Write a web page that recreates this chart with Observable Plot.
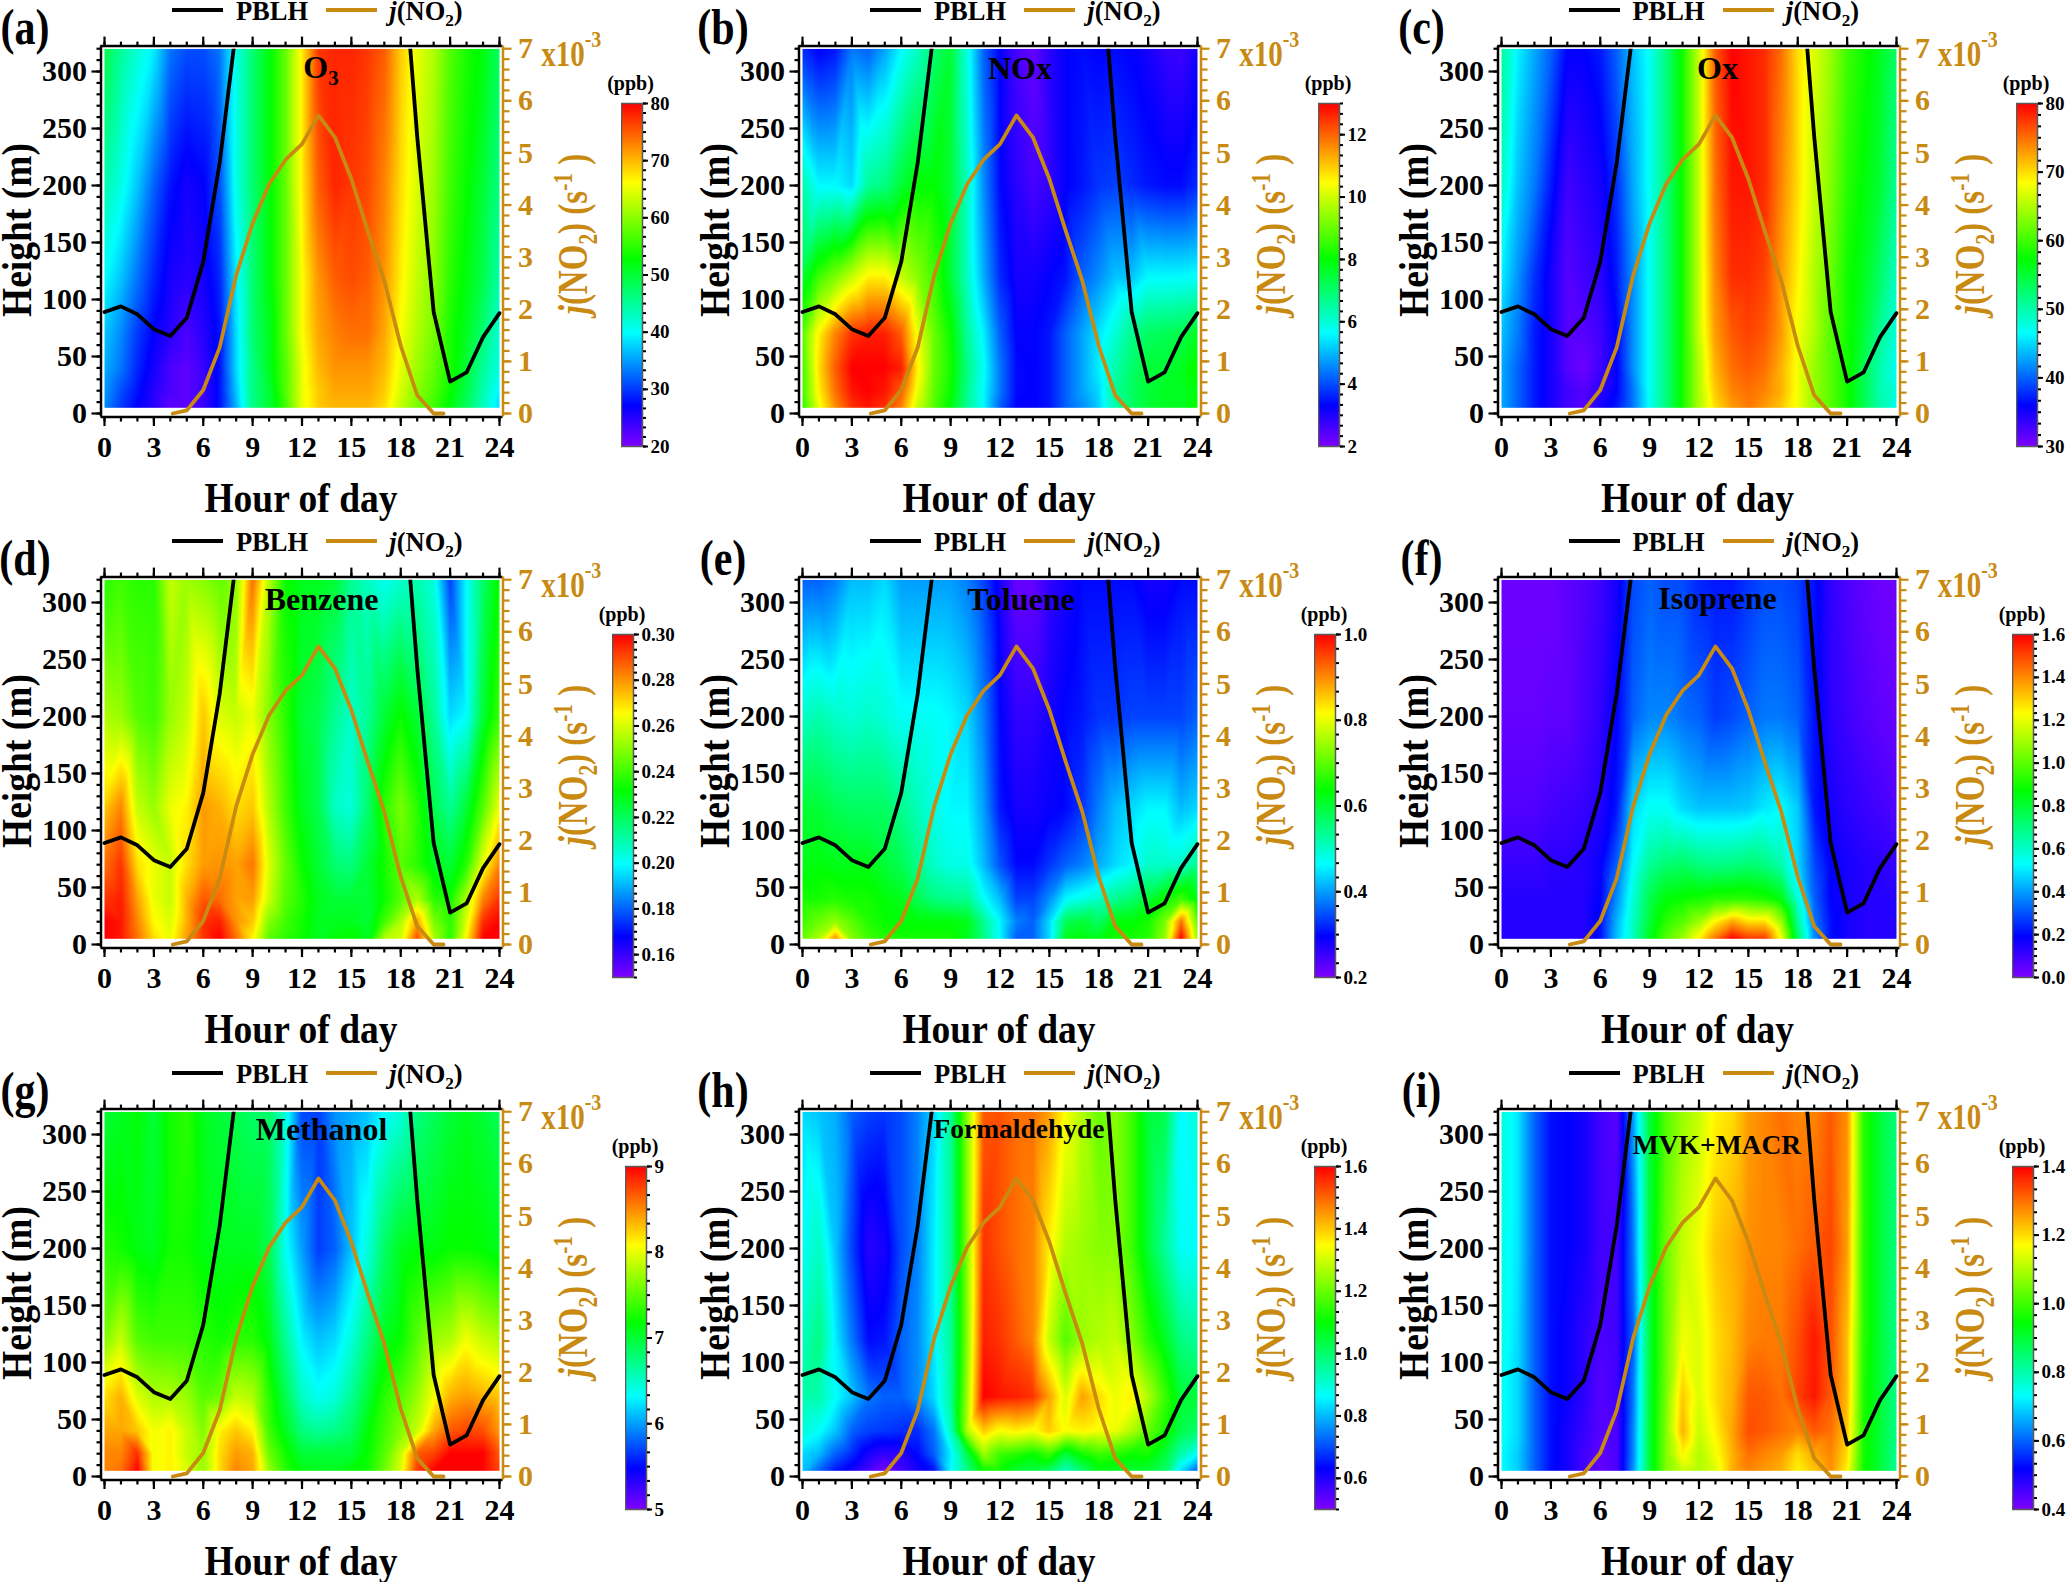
<!DOCTYPE html>
<html><head><meta charset="utf-8">
<script src="https://cdn.jsdelivr.net/npm/d3@7"></script>
<script src="https://cdn.jsdelivr.net/npm/@observablehq/plot@0.6"></script>
<style>
html,body{margin:0;padding:0;background:#fff}
#root{position:relative;width:2067px;height:1582px;overflow:hidden;background:#fff;font-family:"Liberation Serif",serif;font-weight:bold}
.lab{position:absolute;white-space:nowrap;line-height:1;transform-origin:center}
sub,sup{font-size:.65em;line-height:0}
svg{position:absolute;background:transparent}
</style></head><body><div id="root"></div>
<script>
const ochre="#c98a12";
const hours=d3.range(0,25);
const levels=[320,200,120,70,40,20,5];
const pblh=[89,94,87,74,68,84,133,220,338,null,null,null,null,null,null,null,null,null,426,243,89,28,36,67,88];
const jHours=[4.15,5,6,7,8,9,10,11,12,13,14,15,16,17,18,19,20,20.6];
const jVals=[0,0.06,0.45,1.27,2.65,3.65,4.4,4.87,5.17,5.72,5.3,4.5,3.5,2.55,1.3,0.35,0,0];
const rainbowStops=[0,.12,.33,.545,.77,1];
const rainbow=["#8000ff","#0000ff","#00ffff","#00ff00","#ffff00","#ff0000"];

const o3=[
[49,45,42,39,33,31,31,33,41,47,52,58,67,77,78,78,77,75,69,65,62,57,54,52,48],
[44,41,37,32,28,26,27,31,41,47,52,58,67,75,78,77,76,73,68,64,61,56,53,50,46],
[40,37,33,29,26,25,26,29,39,47,52,58,66,72,75,76,75,72,67,63,60,55,52,49,44],
[37,34,30,27,25,23,25,28,38,47,51,58,66,71,73,74,74,71,66,62,59,54,51,47,42],
[36,33,29,26,23,22,24,28,38,46,51,57,65,70,72,72,72,70,65,61,58,54,50,45,41],
[35,31,28,25,23,22,24,28,37,46,50,57,65,69,71,71,71,69,64,60,57,53,49,44,39],
[34,30,27,25,22,22,24,28,36,46,50,56,65,69,70,70,70,68,63,59,56,52,48,43,38]];
const nox=[
[3.7,3.3,3.5,4.4,4.2,4.8,5.6,6.2,7.0,7.5,5.9,4.2,3.3,2.6,2.3,2.9,3.3,3.4,3.3,3.4,3.3,3.1,2.8,2.7,3.1],
[6.4,5.6,5.6,5.3,6.6,6.8,7.5,8.0,8.0,7.5,6.2,4.6,3.4,2.9,2.6,2.8,3.3,3.5,3.8,3.9,3.7,3.5,3.4,3.4,3.7],
[7.5,8.6,9.2,9.9,10.6,10.6,9.9,9.3,8.6,7.5,6.2,4.9,3.7,3.1,3.1,3.3,3.5,4.2,4.6,5.1,5.1,5.6,5.6,5.6,5.7],
[8.8,10.6,11.7,12.5,12.7,12.7,12.1,10.3,9.0,8.1,6.6,5.5,4.2,3.3,3.3,3.5,4.2,4.8,5.4,6.0,6.7,7.1,7.2,7.3,7.7],
[8.6,10.8,12.1,13,13,13,12.7,10.6,9.0,8.2,6.8,5.7,4.4,3.4,3.3,3.5,4.2,4.8,5.5,6.4,7.0,7.5,7.5,7.7,8.1],
[8.6,10.6,11.9,12.8,13,12.8,12.1,10.3,8.9,8.1,6.7,5.6,4.4,3.4,3.3,3.5,4.2,4.8,5.3,6.6,7.1,7.5,7.7,7.7,7.9],
[8.4,10.3,11.6,12.5,12.8,12.5,11.7,9.9,8.8,7.9,6.6,5.6,4.2,3.3,3.3,3.5,4.2,4.6,5.2,6.4,7.1,7.5,7.7,7.7,8.1]];
const ox=[
[51,46,43,40,36,36,37,40,44,47,52,58,66,76,80,79,78,75,70,67,64,60,58,56,53],
[49,44,41,37,33,34,35,38,43,47,52,58,66,75,79,79,78,74,70,66,63,59,57,55,51],
[46,42,38,35,32,33,34,37,42,47,52,58,66,74,78,78,77,73,69,65,62,58,56,53,49],
[44,41,37,35,32,32,33,36,42,47,52,58,66,73,76,77,76,73,68,65,61,58,55,51,48],
[43,40,37,35,32,31,33,36,42,47,52,58,65,72,75,76,75,72,68,64,61,58,54,50,47],
[43,40,37,35,33,32,34,36,41,47,52,58,65,71,74,75,74,72,68,64,61,58,54,50,48],
[43,40,37,35,33,32,35,37,41,47,52,58,65,70,73,74.5,73,71,68,64,61,58,54,50,47]];
const benzene=[
[.237,.24,.237,.237,.258,.252,.25,.245,.25,.285,.255,.233,.228,.228,.225,.213,.207,.201,.206,.21,.204,.176,.2,.219,.233],
[.255,.252,.243,.24,.252,.258,.273,.261,.258,.263,.249,.237,.225,.222,.213,.206,.213,.225,.233,.225,.213,.195,.2,.225,.24],
[.273,.282,.258,.252,.263,.267,.279,.276,.27,.273,.255,.24,.228,.222,.207,.204,.218,.237,.248,.237,.222,.213,.225,.243,.264],
[.285,.293,.27,.263,.258,.27,.279,.28,.278,.284,.261,.245,.233,.225,.218,.216,.225,.234,.243,.237,.228,.225,.237,.263,.282],
[.293,.296,.278,.263,.258,.276,.288,.285,.278,.279,.258,.243,.236,.228,.225,.225,.225,.233,.243,.255,.237,.234,.255,.282,.293],
[.3,.297,.282,.266,.261,.276,.293,.296,.28,.273,.249,.24,.234,.228,.228,.228,.225,.24,.255,.278,.248,.237,.261,.294,.3],
[.3,.297,.285,.27,.263,.279,.293,.3,.285,.267,.243,.237,.233,.228,.231,.234,.228,.255,.26,.29,.255,.237,.267,.3,.3]];
const toluene=[
[.36,.36,.38,.42,.42,.44,.4,.4,.4,.4,.38,.34,.28,.22,.22,.26,.28,.3,.3,.3,.3,.28,.28,.3,.3],
[.5,.52,.5,.49,.5,.49,.47,.47,.47,.46,.44,.38,.3,.26,.26,.28,.3,.31,.33,.33,.34,.34,.34,.34,.36],
[.6,.6,.58,.57,.57,.57,.54,.51,.48,.46,.46,.4,.31,.28,.28,.29,.3,.33,.38,.42,.44,.46,.46,.42,.44],
[.62,.63,.62,.62,.62,.6,.58,.54,.5,.48,.48,.42,.35,.3,.3,.33,.36,.38,.41,.44,.46,.5,.5,.5,.54],
[.65,.65,.66,.65,.65,.63,.62,.58,.55,.54,.54,.47,.42,.34,.34,.39,.46,.48,.5,.54,.56,.6,.64,.68,.62],
[.68,.71,.74,.7,.66,.64,.63,.63,.63,.63,.62,.54,.46,.38,.36,.44,.58,.6,.57,.63,.63,.65,.72,.92,.7],
[.71,.76,.9,.73,.68,.66,.65,.65,.65,.65,.62,.55,.46,.36,.36,.44,.62,.63,.62,.65,.65,.66,.74,1,.74]];
const isoprene=[
[.03,.03,.03,.03,.05,.07,.1,.16,.29,.32,.29,.29,.24,.22,.22,.26,.29,.29,.27,.21,.12,.08,.05,.03,.03],
[.04,.04,.04,.05,.05,.08,.12,.19,.32,.37,.37,.34,.32,.27,.29,.32,.35,.35,.32,.21,.13,.1,.07,.05,.04],
[.07,.07,.07,.09,.1,.11,.14,.22,.48,.54,.54,.48,.45,.45,.45,.46,.5,.53,.46,.22,.16,.13,.11,.09,.07],
[.11,.11,.11,.13,.13,.14,.18,.32,.53,.67,.72,.74,.7,.69,.7,.72,.7,.64,.48,.29,.19,.16,.14,.13,.11],
[.14,.14,.14,.14,.14,.14,.19,.38,.58,.77,.86,.88,.9,.93,.93,.93,.91,.85,.58,.32,.19,.16,.14,.14,.14],
[.14,.14,.14,.14,.14,.14,.21,.43,.61,.8,.93,.99,1.09,1.25,1.36,1.28,1.28,1.09,.67,.35,.21,.16,.14,.14,.14],
[.14,.14,.14,.14,.14,.14,.21,.45,.61,.83,.99,1.09,1.25,1.44,1.6,1.52,1.52,1.22,.74,.38,.21,.16,.14,.14,.14]];
const methanol=[
[7,7.08,7.16,7,7.24,7.32,7.08,7,6.92,6.84,6.84,6.44,5.72,5.68,5.96,6.04,6.12,6.32,6.44,6.76,6.88,7,7.08,7,6.88],
[7.32,7.24,7.12,7.08,7.24,7.24,7.12,7.08,7.08,7.08,6.92,6.36,6,5.68,5.8,6.12,6.44,6.84,7.08,7.16,7.12,7.2,7.2,7.16,7.08],
[7.64,7.88,7.48,7.4,7.4,7.4,7.32,7.24,7.32,7.32,7.12,6.68,6.28,6.12,6.2,6.44,6.76,7.08,7.2,7.48,7.72,7.8,8.04,7.88,7.8],
[8.2,8.36,7.96,7.8,7.8,7.72,7.48,7.56,7.88,7.8,7.32,6.92,6.52,6.36,6.44,6.68,7,7.32,7.48,7.72,8.04,8.36,8.44,8.36,8.28],
[8.4,8.4,8.28,8.04,8.12,7.88,7.64,8.12,8.28,8.12,7.4,7.08,6.76,6.68,6.72,6.84,7.16,7.4,7.64,7.88,8.4,8.68,8.76,8.72,8.44],
[8.52,8.52,8.84,8.04,8.12,7.88,7.72,8.2,8.44,8.36,7.56,7.24,7,7,7,7,7.2,7.48,7.88,8.68,8.76,9,9,9,8.68],
[8.52,8.6,9,8.04,8.12,7.96,7.72,8.2,8.52,8.4,7.72,7.32,7.12,7.08,7.08,7.16,7.24,7.56,7.96,8.8,9,9,9,9,8.76]];
const formaldehyde=[
[.83,.81,.79,.72,.69,.68,.7,.75,.83,.96,1.23,1.51,1.52,1.49,1.49,1.44,1.34,1.27,1.2,1.23,1.16,1.05,1.03,.86,.9],
[.87,.92,.81,.69,.59,.61,.7,.75,.85,.96,1.23,1.55,1.52,1.49,1.47,1.36,1.27,1.25,1.23,1.23,1.16,1.05,.96,.87,.87],
[.92,.98,.85,.74,.64,.65,.72,.76,.85,.96,1.23,1.57,1.55,1.51,1.47,1.29,1.18,1.25,1.27,1.29,1.23,1.14,1.07,.98,.96],
[.94,.94,.87,.81,.74,.72,.72,.76,.83,.96,1.25,1.6,1.58,1.57,1.55,1.44,1.31,1.44,1.38,1.33,1.36,1.27,1.16,1.05,1.05],
[.9,.87,.81,.72,.69,.68,.67,.67,.74,.92,1.27,1.4,1.34,1.36,1.34,1.4,1.34,1.36,1.34,1.33,1.27,1.2,1.12,1.03,1],
[.83,.8,.72,.67,.61,.58,.59,.64,.72,.85,1.03,1.25,1.16,1.14,1.11,1.16,1.05,1.12,1.16,1.14,1.11,1.12,1.05,.94,.87],
[.81,.72,.65,.61,.56,.51,.56,.61,.65,.86,.98,1.11,1.11,1.05,1.03,1.01,.92,1,1.08,1.07,1.05,1.05,1.01,.83,.72]];
const mvkMacr=[
[.76,.71,.6,.53,.52,.5,.46,.44,.65,.9,1.02,1.08,1.12,1.18,1.2,1.26,1.28,1.3,1.28,1.28,1.32,1.27,.98,.9,.84],
[.75,.71,.6,.53,.52,.5,.46,.46,.62,.9,1.04,1.12,1.16,1.22,1.24,1.27,1.28,1.28,1.3,1.32,1.34,1.26,.98,.9,.84],
[.75,.7,.6,.53,.51,.48,.45,.46,.6,.9,1.04,1.16,1.14,1.2,1.23,1.28,1.29,1.29,1.33,1.38,1.33,1.23,.98,.9,.83],
[.74,.7,.6,.53,.51,.48,.44,.46,.62,.9,1.05,1.22,1.14,1.2,1.24,1.32,1.32,1.3,1.34,1.38,1.32,1.23,.97,.9,.83],
[.74,.7,.6,.53,.5,.47,.44,.45,.63,.9,1.06,1.24,1.12,1.18,1.25,1.33,1.32,1.3,1.28,1.32,1.3,1.22,.97,.9,.83],
[.73,.69,.6,.53,.5,.46,.43,.45,.63,.9,1.06,1.18,1.1,1.16,1.24,1.3,1.28,1.26,1.2,1.25,1.28,1.2,.96,.9,.82],
[.73,.69,.6,.53,.5,.46,.43,.45,.64,.9,1.06,1.12,1.1,1.14,1.24,1.28,1.26,1.24,1.18,1.22,1.27,1.18,.96,.9,.82]];

const panels=[
{tag:"(a)",title:"O<sub>3</sub>",tx:321,ty:67,fs:32,rows:o3,lo:20,hi:80,first:20,step:10,dec:0,bar:620.5},
{tag:"(b)",title:"NOx",tx:322,ty:68,fs:32,rows:nox,lo:2,hi:13,first:2,step:2,dec:0,bar:1318},
{tag:"(c)",title:"Ox",tx:321,ty:68,fs:32,rows:ox,lo:30,hi:80,first:30,step:10,dec:0,bar:2016},
{tag:"(d)",title:"Benzene",tx:321.5,ty:68,fs:32,rows:benzene,lo:.15,hi:.30,first:.16,step:.02,dec:2,bar:612},
{tag:"(e)",title:"Toluene",tx:323,ty:68,fs:32,rows:toluene,lo:.2,hi:1,first:.2,step:.2,dec:1,bar:1314},
{tag:"(f)",title:"Isoprene",tx:321,ty:67,fs:32,rows:isoprene,lo:0,hi:1.6,first:0,step:.2,dec:1,bar:2012},
{tag:"(g)",title:"Methanol",tx:321.5,ty:66,fs:32,rows:methanol,lo:5,hi:9,first:5,step:1,dec:0,bar:625},
{tag:"(h)",title:"Formaldehyde",tx:321,ty:66,fs:27.5,rows:formaldehyde,lo:.5,hi:1.6,first:.6,step:.2,dec:1,bar:1314},
{tag:"(i)",title:"MVK+MACR",tx:320.5,ty:82,fs:27.5,rows:mvkMacr,lo:.4,hi:1.4,first:.4,step:.2,dec:1,bar:2012}
];
const colX=[0,698,1396.5], rowY=[0,531,1063];
const root=document.getElementById("root");

function lab(html,x,y,size,extra={},rot=0,sy=1){
  const d=document.createElement("div");d.className="lab";d.innerHTML=html;
  d.style.left=x+"px";d.style.top=y+"px";d.style.fontSize=size+"px";
  d.style.transform=`translate(-50%,-50%) rotate(${rot}deg) scale(1,${sy})`;
  Object.assign(d.style,extra);root.appendChild(d);
}
function seg(x1,x2,y,c){
  const d=document.createElement("div");d.style.cssText=`position:absolute;left:${x1}px;top:${y-1.7}px;width:${x2-x1}px;height:3.4px;background:${c}`;root.appendChild(d);
}
function colorScale(p){
  return {type:"linear",domain:rainbowStops.map(f=>p.lo+f*(p.hi-p.lo)),range:rainbow,clamp:true};
}
const m2j=320/7;
panels.forEach((p,i)=>{
  const dx=colX[i%3],dy=rowY[Math.floor(i/3)];
  const pts=[];
  p.rows.forEach((row,r)=>row.forEach((v,k)=>pts.push({h:hours[k],z:levels[r],v})));
  const tick={fontSize:30,fontWeight:"bold",label:null,strokeWidth:2.2};
  const svg=Plot.plot({
    width:600,height:530,marginLeft:100.5,marginRight:97.5,marginTop:45.6,marginBottom:113.5,
    style:{fontFamily:"Liberation Serif",fontWeight:"bold",background:"transparent",overflow:"visible"},
    x:{domain:[-.213,24.213]},
    y:{domain:[-3.07,322.3]},
    color:colorScale(p),
    marks:[
      Plot.raster(pts,{x:"h",y:"z",fill:"v",interpolate:"barycentric",x1:0,x2:24,y1:5,y2:320,pixelSize:1}),
      Plot.line(pblh,{x:hours,y:pblh,stroke:"black",strokeWidth:3.8,clip:true}),
      Plot.line(jVals,{x:jHours,y:jVals.map(j=>j*m2j),stroke:ochre,strokeWidth:3.8,clip:true}),
      Plot.ruleY([321.3],{stroke:"white",strokeWidth:3}),
      Plot.axisX({anchor:"bottom",ticks:d3.range(0,25,3),tickSize:9.5,tickPadding:9,tickFormat:"d",...tick}),
      Plot.axisX({anchor:"bottom",ticks:hours,tickSize:5,tickFormat:()=>"",...tick}),
      Plot.axisX({anchor:"top",ticks:d3.range(0,25,3),tickSize:10,tickFormat:()=>"",...tick}),
      Plot.axisX({anchor:"top",ticks:hours,tickSize:5,tickFormat:()=>"",...tick}),
      Plot.axisY({anchor:"left",ticks:d3.range(0,301,50),tickSize:9,tickPadding:5,tickFormat:"d",...tick}),
      Plot.axisY({anchor:"left",ticks:d3.range(0,321,10),tickSize:4,tickFormat:()=>"",...tick}),
      Plot.axisY({anchor:"right",ticks:d3.range(0,8).map(j=>j*m2j),tickSize:8,tickPadding:7,tickFormat:m=>Math.round(m/m2j),color:ochre,...tick}),
      Plot.axisY({anchor:"right",ticks:d3.range(0,35).map(k=>k*.2*m2j),tickSize:6,tickFormat:()=>"",color:ochre,...tick}),
      Plot.ruleX([-.213],{stroke:"black",strokeWidth:2.5}),
      Plot.ruleY([-3.07],{stroke:"black",strokeWidth:2.5}),
      Plot.ruleY([322.3],{stroke:"black",strokeWidth:2.5}),
      Plot.ruleX([24.213],{stroke:ochre,strokeWidth:2.5})
    ]
  });
  svg.style.left=dx+"px";svg.style.top=dy+"px";
  root.appendChild(svg);

  // colour bar
  const nMajor=Math.round((p.hi-p.first)/p.step+1e-6);
  const major=d3.range(0,nMajor+1).map(k=>p.first+k*p.step);
  const minor=d3.range(-6,nMajor*6+7).map(k=>p.first+k*p.step/6).filter(v=>v>=p.lo-1e-9&&v<=p.hi+1e-9);
  const cb=Plot.plot({
    width:71,height:373,marginLeft:0,marginRight:50,marginTop:15,marginBottom:15,
    style:{fontFamily:"Liberation Serif",fontWeight:"bold",background:"transparent"},
    x:{domain:[0,1],axis:null},
    y:{domain:[p.lo,p.hi]},
    color:colorScale(p),
    marks:[
      Plot.raster({x1:0,x2:1,y1:p.lo,y2:p.hi,fill:(x,y)=>y,pixelSize:1}),
      Plot.frame({stroke:"#5a5a5a",strokeWidth:1.5}),
      Plot.axisY({anchor:"right",ticks:major,tickSize:5,tickPadding:3,tickFormat:v=>v.toFixed(p.dec),fontSize:19,fontWeight:"bold",label:null,strokeWidth:2}),
      Plot.axisY({anchor:"right",ticks:minor,tickSize:3,tickFormat:()=>"",fontSize:19,label:null,strokeWidth:2})
    ]
  });
  cb.style.left=p.bar+"px";cb.style.top=(dy+88)+"px";
  root.appendChild(cb);
  lab("(ppb)",p.bar+10,dy+83,20);

  // text and legend
  lab(p.tag,dx+25,dy+27,42,{},0,1.2);
  seg(dx+172,dx+223,dy+10,"black");
  lab("PBLH",dx+272,dy+10.5,26.5);
  seg(dx+326,dx+377,dy+10,ochre);
  lab("<i>j</i>(NO<sub>2</sub>)",dx+426,dy+10.5,26.5);
  lab(p.title,dx+p.tx,dy+p.ty,p.fs);
  lab("Hour of day",dx+301,dy+499,37.5,{},0,1.1);
  lab("Height (m)",dx+17,dy+230,37.5,{},-90,1.15);
  lab("<i>j</i>(NO<sub>2</sub>) (s<sup>-1</sup> )",dx+574,dy+234,33,{color:ochre},-90,1.25);
  lab("x10",dx+563,dy+55,29,{color:ochre},0,1.2);
  lab("-3",dx+593,dy+39,20,{color:ochre},0,1.2);
});
</script></body></html>
